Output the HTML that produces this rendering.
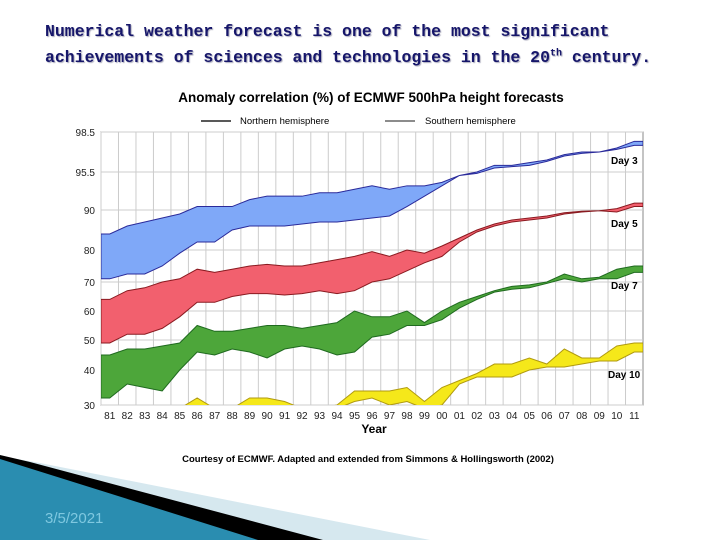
<!DOCTYPE html>
<html><head><meta charset="utf-8"><style>
body{margin:0;width:720px;height:540px;background:#fff;overflow:hidden;position:relative;font-family:"Liberation Sans",sans-serif}
.hd{position:absolute;left:45px;font-family:"Liberation Mono",monospace;font-size:16.5px;font-weight:bold;color:#16166a;text-shadow:1px 1px 1px #aab;white-space:nowrap}
</style></head><body>
<div class="hd" style="top:22px">Numerical weather forecast is one of the most significant</div>
<div class="hd" style="top:48px">achievements of sciences and technologies in the 20<sup style="font-size:10px">th</sup> century.</div>
<svg id="deco" width="720" height="540" style="position:absolute;left:0;top:0">
<polygon points="0,456 40,463 430,540 0,540" fill="#d6e8ef"/>
<polygon points="0,455 30,462 323,540 0,540" fill="#000"/>
<polygon points="0,459 258,540 0,540" fill="#2a8db0"/>
<text x="45" y="523" font-size="15" fill="#7fc8e0">3/5/2021</text>
</svg>
<svg id="chart" width="720" height="540" style="position:absolute;left:0;top:0"></svg>
<script>
const years=[1981,1982,1983,1984,1985,1986,1987,1988,1989,1990,1991,1992,1993,1994,1995,1996,1997,1998,1999,2000,2001,2002,2003,2004,2005,2006,2007,2008,2009,2010,2011];
const yearLabels=["81","82","83","84","85","86","87","88","89","90","91","92","93","94","95","96","97","98","99","00","01","02","03","04","05","06","07","08","09","10","11"];
const yTicks=[30,40,50,60,70,80,90,95.5,98.5];
const yTickLabels=["30","40","50","60","70","80","90","95.5","98.5"];
const day3NH=[84,86,87,88,89,90.5,90.5,90.5,91.5,92,92,92,92.5,92.5,93,93.5,93,93.5,93.5,94,95,95.5,96,96,96.2,96.4,96.8,97,97,97.3,97.8];
const day3SH=[71,72.5,72.5,75,79,82,82,85,86,86,86,86.5,87,87,87.5,88,88.5,90.5,92,93.5,95,95.3,95.8,95.9,96,96.3,96.7,96.9,97,97.2,97.5];
const day5NH=[64,67,68,70,71,74,73,74,75,75.5,75,75,76,77,78,79.5,78,80,79,81,83,85,86.5,87.5,88,88.5,89.3,89.7,89.8,90.2,91];
const day5SH=[49,52,52,54,58,63,63,65,66,66,65.5,66,67,66,67,70,71,73.5,76,78,82,84.5,86,87,87.5,88,89,89.5,89.8,89.5,90.5];
const day7NH=[45,47,47,48,49,55,53,53,54,55,55,54,55,56,60,58,58,60,56,60,63,65,67,68.5,69,70,72.5,71,71.5,74,75];
const day7SH=[32,36,35,34,40,46,45,47,46,44,47,48,47,45,46,51,52,55,55,57,61,64,66.5,67.5,68,69.5,71,70,71,71,73];
const day10NH=[29,29,29,29,29,32,29,29,32,32,31,29,29,30,34,34,34,35,31,35,37,39,42,42,44,42,47,44,44,48,49];
const day10SH=[29,29,29,29,29,29,29,29,29,29,29,29,29,29,31,32,30,31,29,30,36,38,38,38,40,41,41,42,43,43,46];
const NS="http://www.w3.org/2000/svg";
const svg=document.getElementById('chart');
const L=101,R=643,T=132,B=405;
const tickPx=[405,370,340,311,282,250,210,172,132];
function y(v){
  if(v<=yTicks[0]) return tickPx[0]+(yTicks[0]-v)*3.5;
  for(let i=1;i<yTicks.length;i++){ if(v<=yTicks[i]){const f=(v-yTicks[i-1])/(yTicks[i]-yTicks[i-1]);return tickPx[i-1]+f*(tickPx[i]-tickPx[i-1]);} }
  return tickPx[tickPx.length-1];
}
function x(t){return L+(t-years[0])/(years.length)*(R-L);}
function mk(tag,attrs,parent){const e=document.createElementNS(NS,tag);for(const k in attrs)e.setAttribute(k,attrs[k]);(parent||svg).appendChild(e);return e;}
mk('rect',{x:L,y:T,width:R-L,height:B-T,fill:'#fff',stroke:'#888'});
const defs=mk('defs',{});const cp=mk('clipPath',{id:'pc'},defs);mk('rect',{x:L,y:T,width:R-L,height:B-T},cp);
years.forEach((yr,i)=>{const g=mk('line',{x1:x(yr),x2:x(yr),y1:T,y2:B,stroke:'#ccc','stroke-width':1});

});
yTicks.forEach((v,i)=>{const g=mk('line',{x1:L,x2:R,y1:y(v),y2:y(v),stroke:'#ccc'});


const t=mk('text',{x:L-6,y:y(v)+4,'text-anchor':'end','font-size':10,fill:'#222'});t.textContent=yTickLabels[i];

});
yearLabels.forEach((lb,i)=>{const t=mk('text',{x:x(years[i]+0.5),y:B+14,'text-anchor':'middle','font-size':10,fill:'#222'});t.textContent=lb;

});
function band(up,lo,fill,stroke,name){
  const pts=i=>x(years[i]+0.5);
  let d='M'+L+','+y(up[0]);
  up.forEach((v,i)=>d+=' L'+pts(i)+','+y(v));
  d+=' L'+R+','+y(up[up.length-1])+' L'+R+','+y(lo[lo.length-1]);
  for(let i=lo.length-1;i>=0;i--) d+=' L'+pts(i)+','+y(lo[i]);
  d+=' L'+L+','+y(lo[0])+' Z';
  const p=mk('path',{d:d,fill:fill,stroke:stroke,'stroke-width':1,'clip-path':'url(#pc)'});
  
  
}
band(day3NH,day3SH,'#7fa8f8','#2a2a9a','day3-band');
band(day5NH,day5SH,'#f2606e','#8a1a20','day5-band');
band(day7NH,day7SH,'#4da63a','#1f6a1f','day7-band');
band(day10NH,day10SH,'#f5e81a','#b09a10','day10-band');
function txt(s,a,name){const t=mk('text',a);t.textContent=s;

return t;}
txt('Day 3',{x:611,y:164,'font-size':10,'font-weight':'bold'},'label-day3');
txt('Day 5',{x:611,y:227,'font-size':10,'font-weight':'bold'},'label-day5');
txt('Day 7',{x:611,y:289,'font-size':10,'font-weight':'bold'},'label-day7');
txt('Day 10',{x:608,y:378,'font-size':10,'font-weight':'bold'},'label-day10');
txt('Year',{x:374,y:433,'text-anchor':'middle','font-size':12,'font-weight':'bold'},'x-axis-title');
txt('Anomaly correlation (%) of ECMWF 500hPa height forecasts',{x:371,y:102,'text-anchor':'middle','font-size':13.5,'font-weight':'bold'},'chart-title');
mk('line',{x1:201,x2:231,y1:121,y2:121,stroke:'#222','stroke-width':1.5});
txt('Northern hemisphere',{x:240,y:124,'font-size':9.5},'legend-northern');
mk('line',{x1:385,x2:415,y1:121,y2:121,stroke:'#666','stroke-width':1.5});
txt('Southern hemisphere',{x:425,y:124,'font-size':9.5},'legend-southern');
txt('Courtesy of ECMWF. Adapted and extended from Simmons & Hollingsworth (2002)',{x:368,y:462,'text-anchor':'middle','font-size':9.5,'font-weight':'bold'},'source-note');
</script>
</body></html>
